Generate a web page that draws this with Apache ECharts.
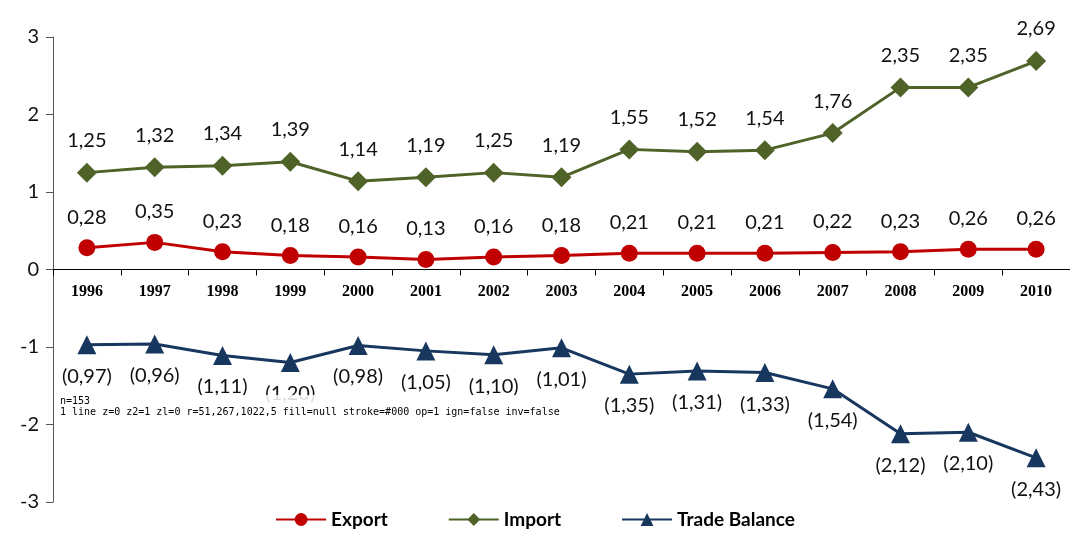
<!DOCTYPE html>
<html>
<head>
    <meta charset="utf-8">
    <title>Trade</title>
    <script src="https://cdn.jsdelivr.net/npm/echarts@6/dist/echarts.min.js"></script>
</head>
<body style="margin:0;">
<div id="main" style="width:1070px;height:536px;"></div>
<pre id="dbg" style="position:absolute;left:60px;top:395px;font-size:10px;line-height:11px;margin:0;background:rgba(255,255,255,0.85);"></pre>
<script type="text/javascript">
    var years = ['1996','1997','1998','1999','2000','2001','2002','2003','2004','2005','2006','2007','2008','2009','2010'];
    var exportData = [0.28, 0.35, 0.23, 0.18, 0.16, 0.13, 0.16, 0.18, 0.21, 0.21, 0.21, 0.22, 0.23, 0.26, 0.26];
    var importData = [1.25, 1.32, 1.34, 1.39, 1.14, 1.19, 1.25, 1.19, 1.55, 1.52, 1.54, 1.76, 2.35, 2.35, 2.69];
    var balanceData = [-0.97, -0.96, -1.11, -1.20, -0.98, -1.05, -1.10, -1.01, -1.35, -1.31, -1.33, -1.54, -2.12, -2.10, -2.43];

    var font = 'Lato, "Open Sans", sans-serif';

    var fmt = function (p) {
        var v = p.value;
        var s = Math.abs(v).toFixed(2).replace('.', ',');
        return v < 0 ? '(' + s + ')' : s;
    };

    var chart = echarts.init(document.getElementById('main'));
    var option = {
        animation: false,
        textStyle: { fontFamily: font },
        grid: { left: 53, right: 0, top: 37, bottom: 34 },
        legend: {
            bottom: 2,
            left: 'center',
            itemGap: 60,
            itemWidth: 50,
            itemHeight: 16,
            textStyle: { fontSize: 19, fontWeight: 'bold', color: '#000', fontFamily: font },
            data: ['Export', 'Import', 'Trade Balance']
        },
        xAxis: {
            type: 'category',
            data: years,
            offset: -232.5,
            axisLine: { show: true, onZero: false, lineStyle: { color: '#000', width: 1 } },
            axisTick: { show: true, lineStyle: { color: '#000' }, length: 6 },
            axisLabel: { show: true, fontSize: 16, fontWeight: 'bold', color: '#000', margin: 14, fontFamily: 'Liberation Serif, serif' },
            splitLine: { show: false }
        },
        yAxis: {
            type: 'value',
            min: -3,
            max: 3,
            interval: 1,
            splitLine: { show: false },
            axisLine: { show: true, lineStyle: { color: '#555' } },
            axisTick: { show: true, length: 7, lineStyle: { color: '#555' } },
            axisLabel: { fontSize: 20, color: '#111', margin: 14 }
        },
        series: [
            {
                name: 'Export', type: 'line', data: exportData,
                symbol: 'circle', symbolSize: 17, color: '#C00000', lineStyle: { width: 3 },
                label: { show: true, position: 'top', distance: 12, formatter: fmt, fontSize: 20, color: '#111' }
            },
            {
                name: 'Import', type: 'line', data: importData,
                symbol: 'diamond', symbolSize: 20, color: '#4F6228', lineStyle: { width: 3 },
                label: { show: true, position: 'top', distance: 12, formatter: fmt, fontSize: 20, color: '#111' }
            },
            {
                name: 'Trade Balance', type: 'line', data: balanceData,
                symbol: 'triangle', symbolSize: 19, color: '#17375E', lineStyle: { width: 3 },
                label: { show: true, position: 'bottom', distance: 12, formatter: fmt, fontSize: 20, color: '#111' }
            }
        ]
    };
    chart.setOption(option);

    var out = [];
    var list = chart.getZr().storage.getDisplayList(true);
    out.push('n=' + list.length);
    list.forEach(function (el, i) {
        var r = el.getBoundingRect();
        if (el.transform) { r = r.clone(); r.applyTransform(el.transform); }
        if (r.y <= 272 && r.y + r.height >= 267 && r.width > 200) {
            out.push(i + ' ' + el.type + ' z=' + el.z + ' z2=' + el.z2 + ' zl=' + el.zlevel + ' r=' + [r.x, r.y, r.width, r.height].map(Math.round).join(',') +
                ' fill=' + (el.style && el.style.fill) + ' stroke=' + (el.style && el.style.stroke) + ' op=' + (el.style && el.style.opacity) + ' ign=' + el.ignore + ' inv=' + el.invisible);
        }
    });
    document.getElementById('dbg').textContent = out.join('\n');
</script>
</body>
</html>
